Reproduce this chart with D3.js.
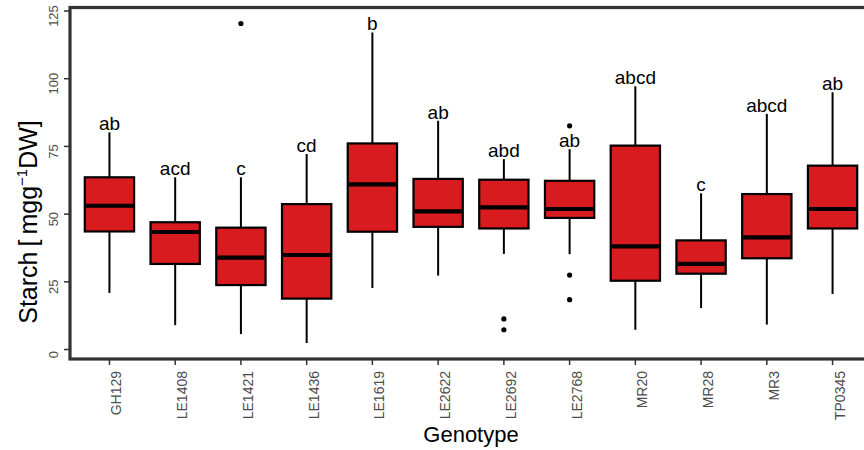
<!DOCTYPE html>
<html>
<head>
<meta charset="utf-8">
<script src="https://cdn.jsdelivr.net/npm/d3@7"></script>
<style>
  body { margin: 0; background: #fff; }
  svg { display: block; font-family: "Liberation Sans", Arial, sans-serif; }
</style>
</head>
<body>
<div id="chart"></div>
<script>
// genotypes on the x axis
var genotypes = ["GH129", "LE1408", "LE1421", "LE1436", "LE1619", "LE2622",
                 "LE2692", "LE2768", "MR20", "MR28", "MR3", "TP0345"];

// box statistics (mg g-1 DW)
var whiskerLow  = [20.9,  9.0,  5.7,  2.4, 22.7, 27.3, 35.3, 35.2,  7.3, 15.3,  9.2, 20.5];
var q1          = [43.6, 31.6, 23.8, 18.8, 43.5, 45.3, 44.7, 48.6, 25.4, 28.0, 33.7, 44.7];
var medians     = [53.1, 43.4, 33.9, 34.9, 61.0, 51.0, 52.5, 51.9, 38.1, 31.6, 41.4, 51.9];
var q3          = [63.6, 47.0, 45.0, 53.7, 76.1, 63.0, 62.7, 62.3, 75.3, 40.3, 57.4, 67.9];
var whiskerHigh = [80.2, 63.6, 63.6, 72.2, 117.1, 84.5, 70.3, 74.0, 97.2, 57.7, 87.0, 95.0];
var outliers    = [[], [], [120.4], [], [], [], [11.3, 7.3], [82.6, 27.5, 18.4], [], [], [], []];

// significance letters
var letters = ["ab", "acd", "c", "cd", "b", "ab", "abd", "ab", "abcd", "c", "abcd", "ab"];

var yTicks = [0, 25, 50, 75, 100, 125];

var width = 864, height = 450;
var panel = {left: 70, right: 872, top: 7.5, bottom: 359};
var fillColor = "#d81b1e";
var tickGrey = "#4d4d4d";

var svg = d3.select("#chart").append("svg")
    .attr("width", width)
    .attr("height", height);

var x = d3.scalePoint()
    .domain(genotypes)
    .range([panel.left, panel.right])
    .padding(0.6);

var y = d3.scaleLinear()
    .domain([-3.5, 126.3])
    .range([panel.bottom, panel.top]);

var boxW = x.step() * 0.75;

var boxes = genotypes.map(function(g, i) {
    return {
        name: g, lo: whiskerLow[i], q1: q1[i], med: medians[i],
        q3: q3[i], hi: whiskerHigh[i], out: outliers[i], letter: letters[i]
    };
});

//boxes
var gBox = svg.append("g").selectAll("g")
    .data(boxes)
    .join("g")
    .attr("transform", function(d) { return "translate(" + x(d.name) + ",0)"; });

gBox.append("line")
    .attr("y1", function(d) { return y(d.lo); })
    .attr("y2", function(d) { return y(d.hi); })
    .attr("stroke", "#000")
    .attr("stroke-width", 2);

gBox.append("rect")
    .attr("x", -boxW / 2)
    .attr("width", boxW)
    .attr("y", function(d) { return y(d.q3); })
    .attr("height", function(d) { return y(d.q1) - y(d.q3); })
    .attr("fill", fillColor)
    .attr("stroke", "#000")
    .attr("stroke-width", 2.2);

gBox.append("line")
    .attr("x1", -boxW / 2 + 1)
    .attr("x2", boxW / 2 - 1)
    .attr("y1", function(d) { return y(d.med); })
    .attr("y2", function(d) { return y(d.med); })
    .attr("stroke", "#000")
    .attr("stroke-width", 4.2);

gBox.selectAll("circle")
    .data(function(d) { return d.out; })
    .join("circle")
    .attr("cy", function(v) { return y(v); })
    .attr("r", 2.6)
    .attr("fill", "#000");

// letters above the upper whisker
gBox.append("text")
    .attr("y", function(d) { return y(d.hi) - 2; })
    .attr("text-anchor", "middle")
    .attr("font-size", 19)
    .attr("fill", "#000")
    .text(function(d) { return d.letter; });

// panel border (right side falls outside the picture)
svg.append("rect")
    .attr("x", panel.left)
    .attr("y", panel.top)
    .attr("width", panel.right - panel.left)
    .attr("height", panel.bottom - panel.top)
    .attr("fill", "none")
    .attr("stroke", "#333")
    .attr("stroke-width", 3.2);

//y axis ticks + labels
var yAxis = svg.append("g");
yAxis.selectAll("line")
    .data(yTicks)
    .join("line")
    .attr("x1", panel.left - 6)
    .attr("x2", panel.left)
    .attr("y1", function(v) { return y(v); })
    .attr("y2", function(v) { return y(v); })
    .attr("stroke", "#333")
    .attr("stroke-width", 1.5);

yAxis.selectAll("text")
    .data(yTicks)
    .join("text")
    .attr("transform", function(v) { return "translate(58," + (y(v) + 5) + ") rotate(-90)"; })
    .attr("text-anchor", "middle")
    .attr("font-size", 13)
    .attr("fill", tickGrey)
    .text(function(v) { return v; });

//x axis ticks + labels
var xAxis = svg.append("g");
xAxis.selectAll("line")
    .data(genotypes)
    .join("line")
    .attr("x1", function(g) { return x(g); })
    .attr("x2", function(g) { return x(g); })
    .attr("y1", panel.bottom)
    .attr("y2", panel.bottom + 6)
    .attr("stroke", "#333")
    .attr("stroke-width", 1.5);

xAxis.selectAll("text")
    .data(genotypes)
    .join("text")
    .attr("transform", function(g) { return "translate(" + (x(g) + 12) + ",371) rotate(-90)"; })
    .attr("text-anchor", "end")
    .attr("font-size", 14)
    .attr("fill", tickGrey)
    .text(function(g) { return g; });

// axis titles
svg.append("text")
    .attr("x", (panel.left + panel.right) / 2)
    .attr("y", 442)
    .attr("text-anchor", "middle")
    .attr("font-size", 22)
    .attr("fill", "#000")
    .text("Genotype");

var yTitle = svg.append("text")
    .attr("transform", "translate(37,222) rotate(-90)")
    .attr("text-anchor", "middle")
    .attr("font-size", 25)
    .attr("fill", "#000");
yTitle.append("tspan").text("Starch\u2009[\u2009mgg");
yTitle.append("tspan").attr("font-size", 15).attr("dy", -10).text("\u22121");
yTitle.append("tspan").attr("dy", 10).text("DW]");
</script>
</body>
</html>
